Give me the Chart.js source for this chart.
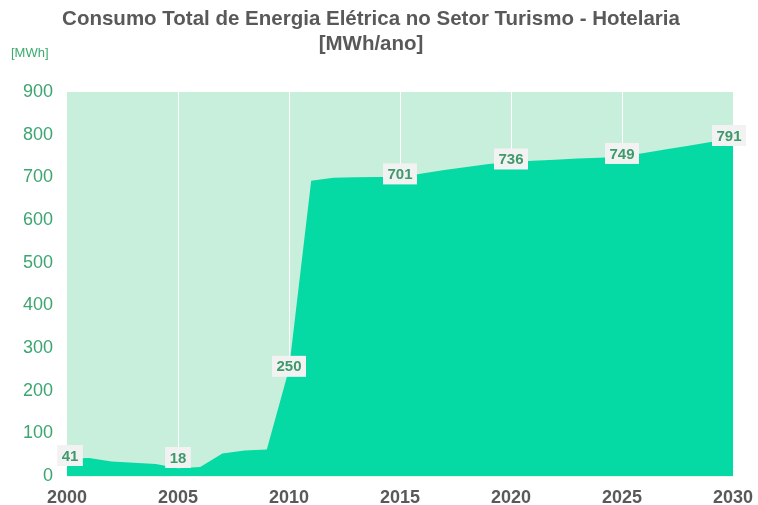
<!DOCTYPE html>
<html>
<head>
<meta charset="utf-8">
<script src="https://cdn.jsdelivr.net/npm/chart.js@4.4.1/dist/chart.umd.min.js"></script>
<style>
    html, body { margin: 0; padding: 0; background: #ffffff; }
    #wrap { width: 758px; height: 505px; }
</style>
</head>
<body>
<div id="wrap"><canvas id="myChart" width="758" height="505"></canvas></div>
<script>
// anos e consumo (MWh/ano)
const years = [2000, 2001, 2002, 2003, 2004, 2005, 2006, 2007, 2008, 2009, 2010,
    2011, 2012, 2013, 2014, 2015, 2016, 2017, 2018, 2019, 2020,
    2021, 2022, 2023, 2024, 2025, 2026, 2027, 2028, 2029, 2030];
const consumo = [41, 42, 34, 31, 28, 18, 21, 53, 60, 62, 250,
    692, 699, 700, 701, 701, 709, 717, 724, 731, 736,
    739, 741, 744, 746, 749, 757, 766, 774, 783, 791];
const labelYears = [2000, 2005, 2010, 2015, 2020, 2025, 2030];
const yTicks = [0, 100, 200, 300, 400, 500, 600, 700, 800, 900];

const titleLines = ['Consumo Total de Energia Elétrica no Setor Turismo - Hotelaria', '[MWh/ano]'];
const unitLabel = '[MWh]';

const plotBg = {
    id: 'plotBg',
    beforeDraw(chart) {
        const {ctx, chartArea: a} = chart;
        ctx.save();
        ctx.fillStyle = '#c8eedc';
        ctx.fillRect(a.left, a.top, a.right - a.left, a.bottom - a.top);
        ctx.restore();
    }
};

const headerText = {
    id: 'headerText',
    afterDraw(chart) {
        const ctx = chart.ctx;
        ctx.save();
        ctx.fillStyle = '#595959';
        ctx.font = 'bold 20.5px "Liberation Sans", Arial, sans-serif';
        ctx.textAlign = 'center';
        ctx.textBaseline = 'middle';
        ctx.fillText(titleLines[0], 371, 19);
        ctx.fillText(titleLines[1], 371, 44);
        ctx.fillStyle = '#3daa70';
        ctx.font = '13px "Liberation Sans", Arial, sans-serif';
        ctx.textAlign = 'left';
        ctx.fillText(unitLabel, 11, 53);
        ctx.restore();
    }
};

const valueLabels = {
    id: 'valueLabels',
    afterDatasetsDraw(chart) {
        const ctx = chart.ctx;
        const meta = chart.getDatasetMeta(0);
        const bottom = chart.chartArea.bottom;
        ctx.save();
        ctx.font = 'bold 15px "Liberation Sans", Arial, sans-serif';
        ctx.textAlign = 'center';
        ctx.textBaseline = 'middle';
        labelYears.forEach(yr => {
            const i = years.indexOf(yr);
            const pt = meta.data[i];
            const txt = String(consumo[i]);
            const w = ctx.measureText(txt).width + 9;
            const h = 21;
            let cx = pt.x;
            if (i === 0) cx += 3;
            if (i === years.length - 1) cx -= 4;
            let cy = pt.y - 3;
            if (cy + h / 2 > bottom - 8) cy = bottom - 8 - h / 2;
            ctx.fillStyle = '#f2f2f2';
            ctx.fillRect(cx - w / 2, cy - h / 2, w, h);
            ctx.fillStyle = '#3f9a6b';
            ctx.fillText(txt, cx, cy + 1);
        });
        ctx.restore();
    }
};

const ctx = document.getElementById('myChart').getContext('2d');
const myChart = new Chart(ctx, {
    type: 'line',
    data: {
        datasets: [{
            label: 'Consumo',
            data: years.map((y, i) => ({x: y, y: consumo[i]})),
            backgroundColor: '#05d9a4',
            borderWidth: 0,
            borderColor: 'rgba(0,0,0,0)',
            pointRadius: 0,
            tension: 0,
            fill: 'origin'
        }]
    },
    options: {
        responsive: false,
        animation: false,
        devicePixelRatio: 1,
        layout: {padding: {top: 92, right: 25, left: 0, bottom: 0}},
        plugins: {
            legend: {display: false},
            title: {display: false},
            tooltip: {enabled: false}
        },
        scales: {
            x: {
                type: 'linear',
                min: 2000,
                max: 2030,
                afterFit: s => { s.height = 29; s.paddingLeft = 0; s.paddingRight = 0; },
                afterBuildTicks: s => { s.ticks = labelYears.map(v => ({value: v})); },
                grid: {
                    drawTicks: false,
                    lineWidth: 1,
                    color: c => (c.tick && (c.tick.value === 2000 || c.tick.value === 2030)) ? 'rgba(0,0,0,0)' : '#ffffff'
                },
                border: {display: true, color: '#e3f6ee', width: 1},
                ticks: {
                    padding: 11,
                    maxRotation: 0,
                    color: '#595959',
                    font: {family: '"Liberation Sans", Arial, sans-serif', size: 18, weight: 'bold'},
                    callback: v => String(v)
                }
            },
            y: {
                min: 0,
                max: 900,
                afterFit: s => { s.width = 67; s.paddingTop = 0; s.paddingBottom = 0; },
                afterBuildTicks: s => { s.ticks = yTicks.map(v => ({value: v})); },
                grid: {display: false, drawTicks: false},
                border: {display: false},
                ticks: {
                    padding: 14,
                    color: '#3da570',
                    font: {family: '"Liberation Sans", Arial, sans-serif', size: 18},
                    callback: v => String(v)
                }
            }
        }
    },
    plugins: [plotBg, valueLabels, headerText]
});
</script>
</body>
</html>
